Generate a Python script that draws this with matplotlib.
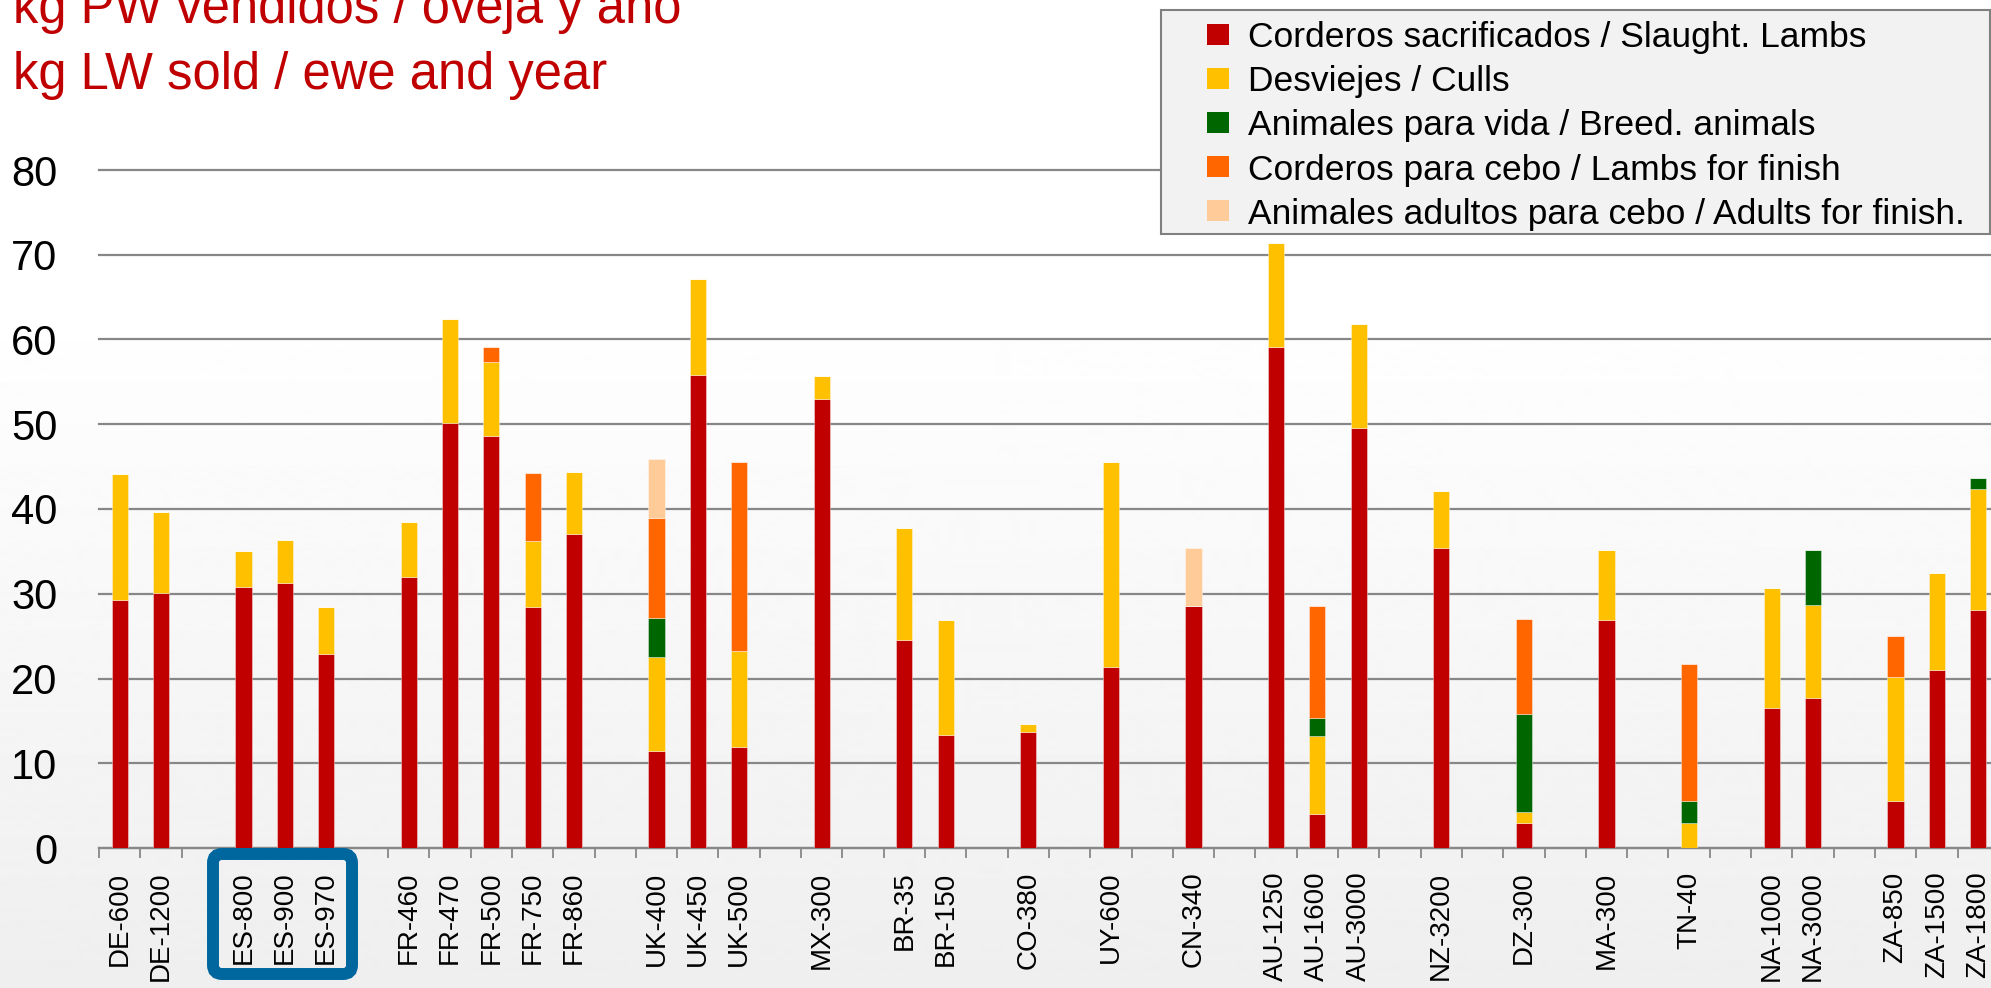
import numpy as np
import matplotlib
matplotlib.use("Agg")
import matplotlib.pyplot as plt
from matplotlib import font_manager
from matplotlib.patches import Rectangle, FancyBboxPatch
from matplotlib.transforms import IdentityTransform

# categories ('' = empty slot between countries)
labels = ['DE-600', 'DE-1200', '',
          'ES-800', 'ES-900', 'ES-970', '',
          'FR-460', 'FR-470', 'FR-500', 'FR-750', 'FR-860', '',
          'UK-400', 'UK-450', 'UK-500', '',
          'MX-300', '',
          'BR-35', 'BR-150', '',
          'CO-380', '',
          'UY-600', '',
          'CN-340', '',
          'AU-1250', 'AU-1600', 'AU-3000', '',
          'NZ-3200', '',
          'DZ-300', '',
          'MA-300', '',
          'TN-40', '',
          'NA-1000', 'NA-3000', '',
          'ZA-850', 'ZA-1500', 'ZA-1800']

# kg LW sold / ewe and year, per component
lambs = [29.3, 30.1, 0,
         30.8, 31.3, 22.9, 0,
         32.0, 50.2, 48.6, 28.4, 37.1, 0,
         11.4, 55.8, 11.9, 0,
         53.0, 0,
         24.5, 13.3, 0,
         13.7, 0,
         21.3, 0,
         28.5, 0,
         59.1, 4.0, 49.5, 0,
         35.4, 0,
         3.0, 0,
         26.9, 0,
         0.0, 0,
         16.5, 17.7, 0,
         5.5, 21.0, 28.1]
culls = [14.8, 9.5, 0,
         4.2, 5.0, 5.5, 0,
         6.5, 12.2, 8.8, 7.8, 7.3, 0,
         11.1, 11.3, 11.4, 0,
         2.7, 0,
         13.3, 13.6, 0,
         0.9, 0,
         24.2, 0,
         0.1, 0,
         12.3, 9.2, 12.3, 0,
         6.7, 0,
         1.2, 0,
         8.3, 0,
         3.0, 0,
         14.2, 11.0, 0,
         14.7, 11.4, 14.3]
breeding = [0, 0, 0,
            0, 0, 0, 0,
            0, 0, 0, 0, 0, 0,
            4.6, 0, 0, 0,
            0, 0,
            0, 0, 0,
            0, 0,
            0, 0,
            0, 0,
            0, 2.1, 0, 0,
            0, 0,
            11.6, 0,
            0, 0,
            2.5, 0,
            0, 6.5, 0,
            0, 0, 1.3]
lambs_finish = [0, 0, 0,
                0, 0, 0, 0,
                0, 0, 1.7, 8.1, 0, 0,
                11.8, 0, 22.2, 0,
                0, 0,
                0, 0, 0,
                0, 0,
                0, 0,
                0, 0,
                0, 13.3, 0, 0,
                0, 0,
                11.2, 0,
                0, 0,
                16.2, 0,
                0, 0, 0,
                4.8, 0, 0]
adults_finish = [0, 0, 0,
                 0, 0, 0, 0,
                 0, 0, 0, 0, 0, 0,
                 7.0, 0, 0, 0,
                 0, 0,
                 0, 0, 0,
                 0, 0,
                 0, 0,
                 6.8, 0,
                 0, 0, 0, 0,
                 0, 0,
                 0, 0,
                 0, 0,
                 0, 0,
                 0, 0, 0,
                 0, 0, 0]

series_names = ['Corderos sacrificados / Slaught. Lambs',
                'Desviejes / Culls',
                'Animales para vida / Breed. animals',
                'Corderos para cebo / Lambs for finish',
                'Animales adultos para cebo / Adults for finish.']
colors = ['#C00000', '#FFC000', '#006600', '#FF6600', '#FFCC99']

names = {f.name for f in font_manager.fontManager.ttflist}
narrow = 'Liberation Sans Narrow' if 'Liberation Sans Narrow' in names else 'Liberation Sans'
plt.rcParams['font.family'] = [narrow, 'DejaVu Sans']

W, H = 1991, 988
fig = plt.figure(figsize=(W / 100, H / 100), dpi=100)

# soft vertical background gradient
bg = fig.add_axes([0, 0, 1, 1], zorder=-10)
grad = np.concatenate([np.ones(300), np.linspace(1.0, 0.935, H - 300)])
bg.imshow(grad[:, None], aspect='auto', cmap='gray', vmin=0, vmax=1,
          extent=[0, 1, 0, 1])
bg.axis('off')

slot = 41.3
x_lo, x_hi = -0.5, 47.0
ax = fig.add_axes([99 / W, (H - 848) / H, (x_hi - x_lo) * slot / W, 678 / H])
ax.patch.set_alpha(0)

x = np.arange(len(labels))
bottom = np.zeros(len(labels))
for vals, c, name in zip([lambs, culls, breeding, lambs_finish, adults_finish],
                         colors, series_names):
    vals = np.array(vals)
    ax.bar(x, vals, width=0.39, bottom=bottom, color=c, label=name,
           edgecolor=(1, 1, 1, 0.45), linewidth=0.6, zorder=3)
    bottom += vals

ax.set_xlim(x_lo, x_hi)
ax.set_ylim(0, 80)
ax.set_yticks(np.arange(0, 81, 10))
ax.grid(axis='y', color='#878787', linewidth=1.6, zorder=1, clip_on=False)
ax.set_axisbelow(True)
for s in ['top', 'right', 'left']:
    ax.spines[s].set_visible(False)
ax.spines['bottom'].set_color('#878787')
ax.spines['bottom'].set_linewidth(1.6)

ax.tick_params(axis='y', length=0, pad=30, labelsize=30, labelcolor='black')
ax.set_xticks(x)
ax.set_xticklabels(labels, rotation=90, fontsize=20)
ax.tick_params(axis='x', which='major', length=0, pad=17)
ax.set_xticks(np.arange(-0.5, len(labels) + 1, 1), minor=True)
ax.tick_params(axis='x', which='minor', length=7.5, width=1.3,
               color='#878787', direction='out')

# title
red = '#C00000'
fig.text(13 / W, 1 - 23 / H, 'kg PW vendidos / oveja y año', color=red,
         fontsize=36.5, va='baseline', ha='left')
fig.text(13 / W, 1 - 89 / H, 'kg LW sold / ewe and year', color=red,
         fontsize=36.5, va='baseline', ha='left')

# legend box
idt = IdentityTransform()
fig.patches.append(Rectangle((1161, H - 234), 829, 224, transform=idt,
                             facecolor='#F2F2F2', edgecolor='#808080',
                             linewidth=1.5, zorder=5))
for i, (name, c) in enumerate(zip(series_names, colors)):
    yc = H - (34 + i * 44.2)
    fig.patches.append(Rectangle((1207, yc - 10.5), 22, 21, transform=idt,
                                 facecolor=c, edgecolor='none', zorder=6))
    fig.text(1248 / W, (yc - 13) / H, name, fontsize=25.5, color='black',
             va='baseline', ha='left', zorder=7)

# highlight box around the Spanish farms
fig.patches.append(FancyBboxPatch((213, H - 974), 139, 120, transform=idt,
                                  boxstyle='round,pad=0,rounding_size=9',
                                  facecolor='none', edgecolor='#00669E',
                                  linewidth=8.6, zorder=8))

fig.savefig('out.png', dpi=100)
